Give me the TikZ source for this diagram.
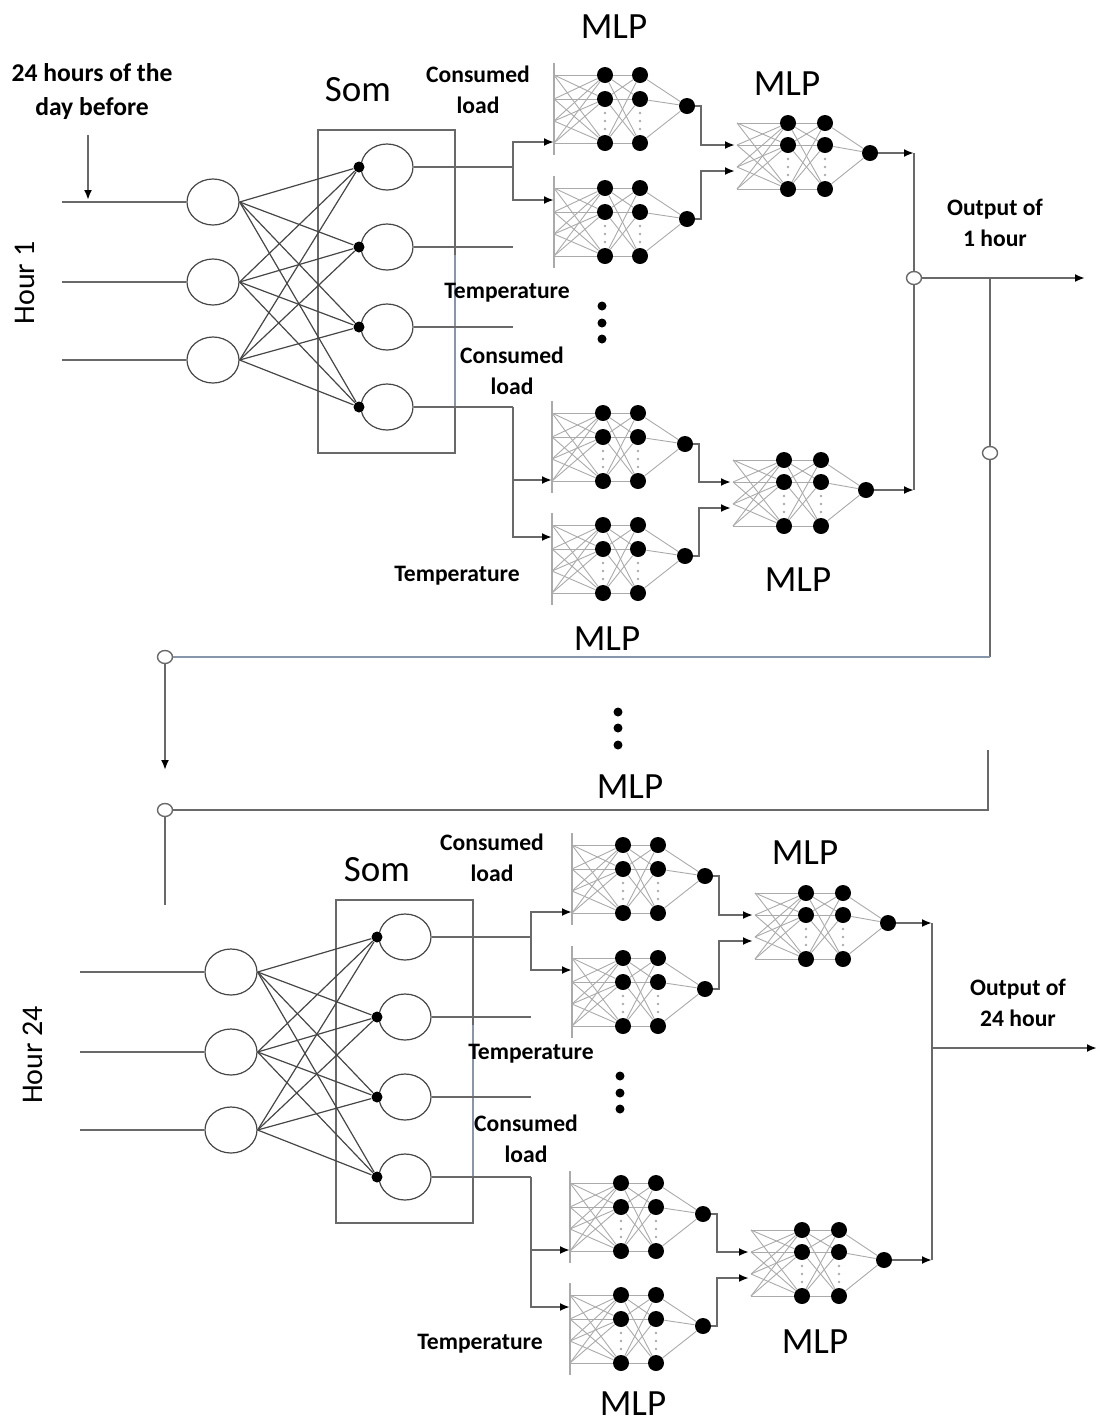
\documentclass[tikz,border=0pt]{standalone}
\usepackage{fontspec}
\setmainfont{Carlito}
\usetikzlibrary{arrows.meta,shapes.geometric}
\definecolor{wiregray}{RGB}{105,105,105}
\definecolor{netgray}{RGB}{170,170,170}
\definecolor{linkgray}{RGB}{70,70,70}
\definecolor{steel}{RGB}{135,150,170}
\tikzset{
  >={Latex[length=5pt,width=4pt,color=black]},
  wire/.style={draw=wiregray,line width=1pt},
  net/.style={draw=netgray,line width=0.45pt},
  link/.style={draw=linkgray,line width=0.6pt},
  neuron/.style={circle,fill=black,inner sep=0pt,minimum size=8pt},
  sdot/.style={circle,fill=black,inner sep=0pt,minimum size=5.5pt},
  bead/.style={circle,fill=black,inner sep=0pt,minimum size=4.5pt},
  unit/.style={ellipse,draw=linkgray,fill=white,line width=0.6pt,inner sep=0pt,minimum width=26pt,minimum height=23pt},
  port/.style={ellipse,draw=wiregray,fill=white,line width=0.7pt,inner sep=0pt,minimum width=7.5pt,minimum height=6.5pt},
  sombox/.style={draw=wiregray,line width=0.8pt,minimum width=68.5pt,minimum height=161.5pt},
  tag/.style={font={\fontsize{11.8pt}{15.5pt}\selectfont\bfseries},align=center},
  head/.style={font={\fontsize{18.5pt}{22pt}\selectfont}},
  side/.style={font={\fontsize{15pt}{18pt}\selectfont},rotate=90}
}
% small mlp: name, bar x, first node y
\newcommand{\smallmlp}[3]{%
  \coordinate (#1-t) at (#2,#3-12);
  \coordinate (#1-b) at (#2,#3+80);
  \coordinate (#1-i1) at (#2,#3+67);
  \coordinate (#1-i2) at (#2,#3+12);
  \foreach \k/\dy in {1/0,2/24,3/68} {
    \node[neuron] (#1-a\k) at (#2+51,#3+\dy) {};
    \node[neuron] (#1-h\k) at (#2+86,#3+\dy) {};
  }
  \node[neuron] (#1-o) at (#2+133,#3+31) {};
  \foreach \p/\dy in {1/0,2/24,3/46,4/68} {
    \coordinate (#1-p\p) at (#2,#3+\dy);
    \foreach \k in {1,2,3} \draw[net] (#1-p\p) -- (#1-a\k);
  }
  \foreach \k in {1,2,3} {
    \foreach \q in {1,2,3} \draw[net] (#1-a\k) -- (#1-h\q);
    \draw[net] (#1-h\k) -- (#1-o);
  }
  \draw[net,line width=1pt] (#1-t) -- (#1-b);
  \foreach \dy in {38,46,54} {
    \fill[netgray] (#2+51,#3+\dy) circle (0.7pt);
    \fill[netgray] (#2+86,#3+\dy) circle (0.7pt);
  }
}
% big mlp: name, left x, first node y
\newcommand{\bigmlp}[3]{%
  \coordinate (#1-i1) at (#2-2,#3+22);
  \coordinate (#1-i2) at (#2-2,#3+48);
  \foreach \k/\dy in {1/0,2/22,3/66} {
    \node[neuron] (#1-a\k) at (#2+51,#3+\dy) {};
    \node[neuron] (#1-h\k) at (#2+88,#3+\dy) {};
  }
  \node[neuron] (#1-o) at (#2+133,#3+30) {};
  \foreach \p/\dy in {1/0,2/22,3/44,4/66} {
    \coordinate (#1-p\p) at (#2,#3+\dy);
    \foreach \k in {1,2,3} \draw[net] (#1-p\p) -- (#1-a\k);
  }
  \foreach \k in {1,2,3} {
    \foreach \q in {1,2,3} \draw[net] (#1-a\k) -- (#1-h\q);
    \draw[net] (#1-h\k) -- (#1-o);
  }
  \foreach \dy in {36,44,52} {
    \fill[netgray] (#2+51,#3+\dy) circle (0.7pt);
    \fill[netgray] (#2+88,#3+\dy) circle (0.7pt);
  }
}
\begin{document}
\begin{tikzpicture}[x=0.5pt,y=-0.5pt]
\useasboundingbox (0,0) rectangle (1100,1426);
% both hours are drawn the same way
\foreach \s/\sx/\sy in {t/0/0,b/18/770} {
\begin{scope}[shift={(\sx,\sy)}]
  % inputs
  \foreach \i/\y in {1/202,2/282,3/360} {
    \coordinate (\s-x\i) at (62,\y);
    \node[unit] (\s-in\i) at (213,\y) {};
    \draw[wire] (\s-x\i) -- (\s-in\i);
  }
  % som
  \node[sombox] (\s-som) at (386.5,291.5) {};
  \draw[steel,line width=1pt] (455,255) -- (455,406);
  \foreach \j/\y in {1/167,2/247,3/327,4/407} {
    \node[unit] (\s-k\j) at (387,\y) {};
    \node[sdot] (\s-d\j) at (359,\y) {};
    \coordinate (\s-c\j) at (513,\y);
    \draw[wire] (\s-k\j) -- (\s-c\j);
  }
  \foreach \i in {1,2,3} \foreach \j in {1,...,4}
    \draw[link] (\s-in\i.east) -- (\s-d\j);
  % mlps
  \smallmlp{\s-m1}{554}{75}
  \smallmlp{\s-m2}{554}{188}
  \smallmlp{\s-m3}{552}{413}
  \smallmlp{\s-m4}{552}{525}
  \bigmlp{\s-n1}{737}{123}
  \bigmlp{\s-n2}{733}{460}
  \draw[wire,->] (\s-c1) |- (\s-m1-i1);
  \draw[wire,->] (\s-c1) |- (\s-m2-i2);
  \draw[wire,->] (\s-c4) |- (\s-m3-i1);
  \draw[wire,->] (\s-c4) |- (\s-m4-i2);
  \draw[wire,->] (\s-m1-o.east) -- ++(6,0) |- (\s-n1-i1);
  \draw[wire,->] (\s-m2-o.east) -- ++(6,0) |- (\s-n1-i2);
  \draw[wire,->] (\s-m3-o.east) -- ++(6,0) |- (\s-n2-i1);
  \draw[wire,->] (\s-m4-o.east) -- ++(6,0) |- (\s-n2-i2);
  \foreach \k/\y in {1/306,2/323,3/339} \node[bead] (\s-e\k) at (602,\y) {};
\end{scope}
}
% day before
\coordinate (a1) at (88,135);
\coordinate (a2) at (88,200);
\draw[wire,->] (a1) -- (a2);
% output of 1 hour
\coordinate (t-r1) at (914,153);
\coordinate (t-r2) at (914,490);
\node[port] (t-j) at (914,278) {};
\coordinate (t-out) at (1085,278);
\draw[wire,->] (t-n1-o) -- (t-r1);
\draw[wire,->] (t-n2-o) -- (t-r2);
\draw[wire] (t-r1) -- (t-j) -- (t-r2);
\draw[wire,->] (t-j) -- (t-out);
% feedback to next hour
\coordinate (f1) at (990,278);
\node[port] (f2) at (990,453) {};
\coordinate (f3) at (990,657);
\node[port] (f4) at (165,657) {};
\coordinate (f5) at (165,770);
\draw[wire] (f1) -- (f2) -- (f3);
\draw[wire,steel] (f3) -- (f4);
\draw[wire,->] (f4) -- (f5);
\foreach \k/\y in {1/712,2/728,3/745} \node[bead] (v\k) at (618,\y) {};
\coordinate (g1) at (988,750);
\coordinate (g2) at (988,810);
\node[port] (g3) at (165,810) {};
\coordinate (g4) at (165,905);
\draw[wire] (g1) -- (g2) -- (g3) -- (g4);
% output of 24 hour
\coordinate (b-r1) at (932,923);
\coordinate (b-r2) at (932,1260);
\coordinate (b-j) at (932,1048);
\coordinate (b-out) at (1097,1048);
\draw[wire,->] (b-n1-o) -- (b-r1);
\draw[wire,->] (b-n2-o) -- (b-r2);
\draw[wire] (b-r1) -- (b-r2);
\draw[wire,->] (b-j) -- (b-out);
% labels
\node[head] (mlp1) at (614,27) {MLP};
\node[head] (mlp2) at (787,84) {MLP};
\node[head] (mlp3) at (798,580) {MLP};
\node[head] (mlp4) at (607,639) {MLP};
\node[head] (mlp5) at (630,787) {MLP};
\node[head] (mlp6) at (805,853) {MLP};
\node[head] (mlp7) at (815,1342) {MLP};
\node[head] (mlp8) at (633,1404) {MLP};
\node[head] (som1) at (358,90) {Som};
\node[head] (som2) at (377,870) {Som};
\node[tag] (load1) at (478,90) {Consumed\\load};
\node[tag] (load2) at (512,371) {Consumed\\load};
\node[tag] (load3) at (492,858) {Consumed\\load};
\node[tag] (load4) at (526,1139) {Consumed\\load};
\node[tag] (temp1) at (507,293) {Temperature};
\node[tag] (temp2) at (457,576) {Temperature};
\node[tag] (temp3) at (531,1054) {Temperature};
\node[tag] (temp4) at (480,1344) {Temperature};
\node[tag] (out1) at (995,223) {Output of\\1 hour};
\node[tag] (out2) at (1018,1003) {Output of\\24 hour};
\node[tag,font={\fontsize{12.8pt}{17pt}\selectfont\bfseries}] (prev) at (92,92) {24 hours of the\\day before};
\node[side] (hour1) at (25,283) {Hour 1};
\node[side] (hour2) at (33,1055) {Hour 24};
\end{tikzpicture}
\end{document}
